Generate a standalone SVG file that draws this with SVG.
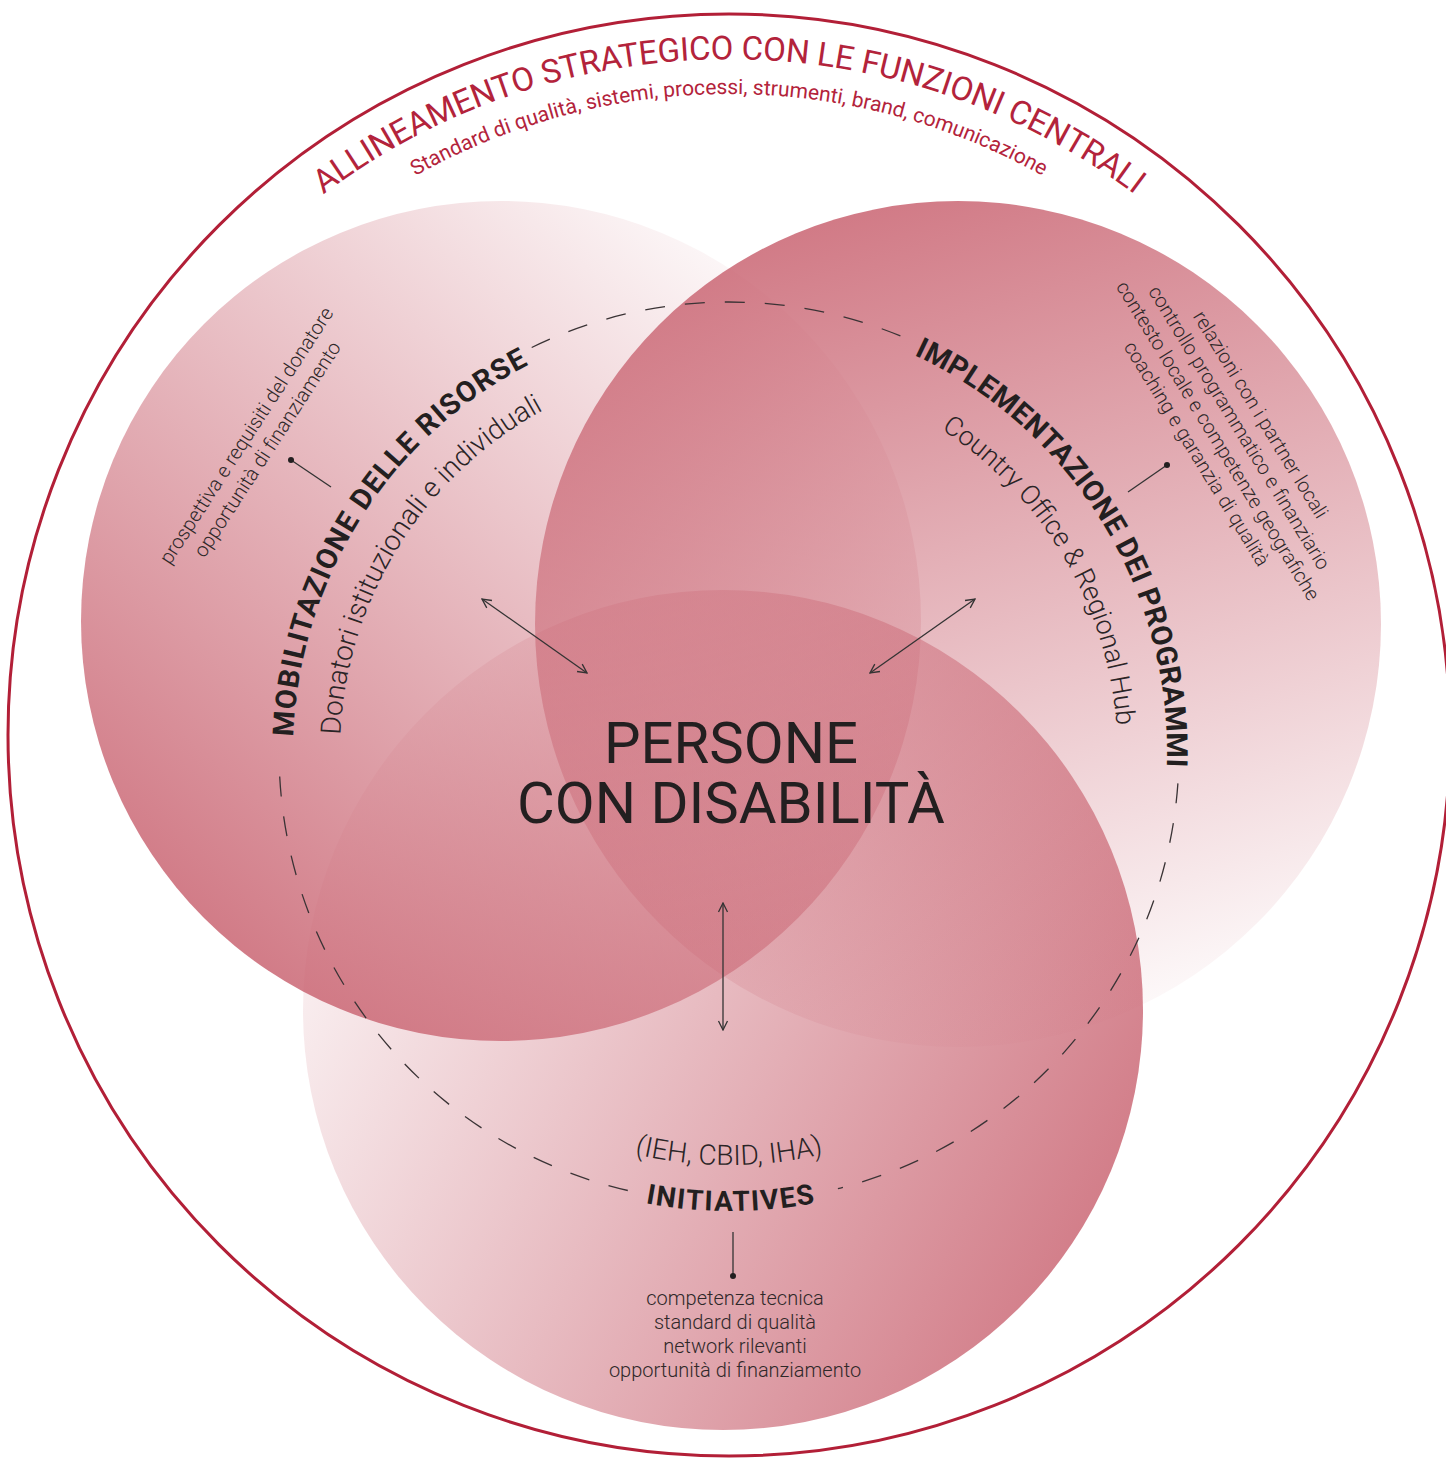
<svg xmlns="http://www.w3.org/2000/svg" xmlns:xlink="http://www.w3.org/1999/xlink" width="1446" height="1458" viewBox="0 0 1446 1458">
  <style>
    .title { font-family: Roboto, "Liberation Sans", sans-serif; fill: #b3233b; }
    .lab { font-family: Roboto, "Liberation Sans", sans-serif; font-weight: 700; fill: #231f20; }
    .sub { font-family: Roboto, "Liberation Sans", sans-serif; font-weight: 300; fill: #2a2426; }
    .note { font-family: Roboto, "Liberation Sans", sans-serif; font-size: 20px; font-weight: 300; fill: #2f2829; }
    .center { font-family: Roboto, "Liberation Sans", sans-serif; font-size: 58px; fill: #231f20; text-anchor: middle; }
    .dash { fill: none; stroke: #3a3335; stroke-width: 1.3; stroke-dasharray: 20 20; }
    .conn { fill: none; stroke: #333; stroke-width: 1.3; }
    .dot { fill: #231f20; }
  </style>
  <defs>
    <linearGradient id="gL" x1="0.85" y1="0.1" x2="0.15" y2="0.9">
      <stop offset="0" stop-color="#c8606e" stop-opacity="0.03"/>
      <stop offset="1" stop-color="#c8606e" stop-opacity="0.85"/>
    </linearGradient>
    <linearGradient id="gR" x1="0.35" y1="0" x2="0.65" y2="1">
      <stop offset="0" stop-color="#c8606e" stop-opacity="0.85"/>
      <stop offset="1" stop-color="#c8606e" stop-opacity="0.02"/>
    </linearGradient>
    <linearGradient id="gB" x1="0" y1="0.25" x2="1" y2="0.75">
      <stop offset="0" stop-color="#c8606e" stop-opacity="0.04"/>
      <stop offset="1" stop-color="#c8606e" stop-opacity="0.85"/>
    </linearGradient>
    <marker id="ah" viewBox="0 0 12 12" refX="11" refY="6" markerWidth="12" markerHeight="12" markerUnits="userSpaceOnUse" orient="auto-start-reverse">
      <path d="M2,1.5 L11,6 L2,10.5" fill="none" stroke="#333" stroke-width="1.3"/>
    </marker>
    <path id="pTitle" d="M53,735 A676,676 0 0 1 1405,735"/>
    <path id="pSub" d="M88,735 A641,641 0 0 1 1370,735"/>
    <path id="pL1" d="M293.3,736.8 A436,436 0 0 1 579.9,342.3"/>
    <path id="pL2" d="M340.4,735.0 A389,389 0 0 1 596.0,386.5"/>
    <path id="pR1" d="M914.1,355.0 A438,438 0 0 1 1165.3,790.2"/>
    <path id="pR2" d="M941.3,429.4 A389,389 0 0 1 1116.5,785.9"/>
    <path id="pB1" d="M535.0,1168.0 A459,459 0 0 0 923.0,1168.0"/>
    <path id="pB2" d="M554.5,1126.3 A413,413 0 0 0 903.5,1126.3"/>
  </defs>

  <rect width="1446" height="1458" fill="#ffffff"/>

  <g id="outer-alignment">
    <circle cx="729" cy="735" r="721" fill="none" stroke="#b21f37" stroke-width="3"/>
    <text class="title" font-size="33" letter-spacing="-0.2" text-anchor="middle"><textPath href="#pTitle" xlink:href="#pTitle" startOffset="50%">ALLINEAMENTO STRATEGICO CON LE FUNZIONI CENTRALI</textPath></text>
    <text class="title" font-size="21" text-anchor="middle"><textPath href="#pSub" xlink:href="#pSub" startOffset="50%">Standard di qualità, sistemi, processi, strumenti, brand, comunicazione</textPath></text>
  </g>

  <g id="venn-circles">
    <circle id="circle-initiatives" cx="723" cy="1010" r="420" fill="url(#gB)"/>
    <circle id="circle-mobilitazione" cx="501" cy="621" r="420" fill="url(#gL)"/>
    <circle id="circle-implementazione" cx="958" cy="624" r="423" fill="url(#gR)"/>
  </g>

  <g id="dashed-ring">
    <path class="dash" d="M531.7,347.5 A450,450 0 0 1 904.8,337.8"/>
    <path class="dash" d="M1177.9,783.4 A450,450 0 0 1 837.9,1188.6"/>
    <path class="dash" d="M627.8,1190.5 A450,450 0 0 1 279.1,759.9"/>
  </g>

  <g id="node-mobilitazione">
    <text class="lab" font-size="29" letter-spacing="1.2"><textPath href="#pL1" xlink:href="#pL1">MOBILITAZIONE DELLE RISORSE</textPath></text>
    <text class="sub" font-size="28"><textPath href="#pL2" xlink:href="#pL2">Donatori istituzionali e individuali</textPath></text>
    <g transform="translate(247,436) rotate(-57)">
      <text class="note" x="0" y="6" text-anchor="middle">prospettiva e requisiti del donatore</text>
      <text class="note" x="0" y="31" text-anchor="middle">opportunità di finanziamento</text>
    </g>
  </g>

  <g id="node-implementazione">
    <text class="lab" font-size="29" letter-spacing="0.5"><textPath href="#pR1" xlink:href="#pR1">IMPLEMENTAZIONE DEI PROGRAMMI</textPath></text>
    <text class="sub" font-size="27"><textPath href="#pR2" xlink:href="#pR2">Country Office &amp; Regional Hub</textPath></text>
    <g transform="translate(1260,415) rotate(58.5)">
      <text class="note" x="0" y="6" text-anchor="middle">relazioni con i partner locali</text>
      <text class="note" x="0" y="31" text-anchor="middle">controllo programmatico e finanziario</text>
      <text class="note" x="0" y="56" text-anchor="middle">contesto locale e competenze geografiche</text>
      <text class="note" x="0" y="81" text-anchor="middle">coaching e garanzia di qualità</text>
    </g>
  </g>

  <g id="node-initiatives">
    <text class="sub" font-size="28" text-anchor="middle"><textPath href="#pB2" xlink:href="#pB2" startOffset="50%">(IEH, CBID, IHA)</textPath></text>
    <text class="lab" font-size="28" letter-spacing="1.5" text-anchor="middle"><textPath href="#pB1" xlink:href="#pB1" startOffset="50.5%">INITIATIVES</textPath></text>
    <text class="note" x="735" y="1305" text-anchor="middle">competenza tecnica</text>
    <text class="note" x="735" y="1329" text-anchor="middle">standard di qualità</text>
    <text class="note" x="735" y="1353" text-anchor="middle">network rilevanti</text>
    <text class="note" x="735" y="1377" text-anchor="middle">opportunità di finanziamento</text>
  </g>

  <g id="node-persone">
    <text class="center" x="731" y="763">PERSONE</text>
    <text class="center" x="731" y="823">CON DISABILITÀ</text>
  </g>

  <g id="connectors">
    <line class="conn" x1="482" y1="599" x2="587" y2="673" marker-start="url(#ah)" marker-end="url(#ah)"/>
    <line class="conn" x1="975" y1="599" x2="870" y2="673" marker-start="url(#ah)" marker-end="url(#ah)"/>
    <line class="conn" x1="723" y1="903" x2="723" y2="1030" marker-start="url(#ah)" marker-end="url(#ah)"/>
    <line class="conn" x1="291" y1="460" x2="331" y2="487"/>
    <circle class="dot" cx="291" cy="460" r="3"/>
    <line class="conn" x1="1167" y1="465" x2="1128" y2="492"/>
    <circle class="dot" cx="1167" cy="465" r="3"/>
    <line class="conn" x1="733" y1="1232" x2="733" y2="1274"/>
    <circle class="dot" cx="733" cy="1276" r="3"/>
  </g>
</svg>
